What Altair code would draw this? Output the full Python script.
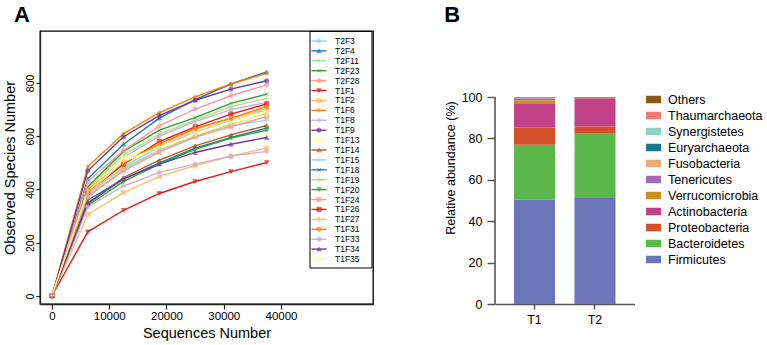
import altair as alt
import pandas as pd

FONT = "Liberation Sans"

# ---------- Panel A: rarefaction curves ----------
series_names = ["T2F3", "T2F4", "T2F11", "T2F23", "T2F28", "T1F1", "T1F2", "T1F6",
                "T1F8", "T1F9", "T1F13", "T1F14", "T1F15", "T1F18", "T1F19", "T1F20",
                "T1F24", "T1F26", "T1F27", "T1F31", "T1F33", "T1F34", "T1F35"]

paired = ["#a6cee3", "#1f78b4", "#b2df8a", "#33a02c", "#fb9a99", "#e31a1c",
          "#fdbf6f", "#ff7f00", "#cab2d6", "#6a3d9a", "#ffff99", "#b15928"]
series_colors = (paired * 2)[:len(series_names)]

PLUS = "M-1,0H1M0,-1V1"
XMARK = "M-0.8,-0.8L0.8,0.8M0.8,-0.8L-0.8,0.8"
STAR = "M-1,0H1M0,-1V1M-0.7,-0.7L0.7,0.7M0.7,-0.7L-0.7,0.7"
series_shapes = ["circle", "triangle-up", PLUS, XMARK, "circle", "triangle-down",
                 "square", STAR, "diamond", "circle", "circle", "triangle-up",
                 PLUS, XMARK, "diamond", "triangle-down", "square", "square",
                 "diamond", "circle", "circle", "triangle-up", PLUS]

depths = [0, 6250, 12500, 18750, 25000, 31250, 37500]

observed = [
    [1, 380, 485, 560, 615, 660, 698],   # T2F3
    [1, 440, 570, 668, 737, 796, 841],   # T2F4
    [1, 405, 530, 608, 660, 711, 742],   # T2F11
    [1, 410, 543, 623, 670, 723, 758],   # T2F23
    [1, 430, 546, 639, 702, 752, 793],   # T2F28
    [1, 241, 322, 385, 430, 467, 501],   # T1F1
    [1, 305, 388, 449, 489, 525, 555],   # T1F2
    [1, 486, 610, 689, 748, 796, 836],   # T1F6
    [1, 395, 520, 600, 655, 700, 727],   # T1F8
    [1, 470, 598, 677, 735, 777, 808],   # T1F9
    [1, 400, 520, 570, 620, 662, 692],   # T1F13
    [1, 345, 445, 510, 564, 605, 640],   # T1F14
    [1, 370, 475, 545, 595, 640, 660],   # T1F15
    [1, 360, 440, 500, 555, 595, 630],   # T1F18
    [1, 385, 480, 548, 600, 645, 685],   # T1F19
    [1, 340, 430, 495, 551, 593, 622],   # T1F20
    [1, 375, 470, 540, 598, 635, 674],   # T1F24
    [1, 390, 495, 580, 635, 683, 721],   # T1F26
    [1, 385, 505, 565, 625, 665, 705],   # T1F27
    [1, 400, 500, 572, 629, 668, 711],   # T1F31
    [1, 335, 413, 464, 495, 525, 543],   # T1F33
    [1, 350, 440, 495, 539, 570, 595],   # T1F34
    [1, 395, 505, 560, 605, 650, 680],   # T1F35
]

x_ticks_a = [0, 10000, 20000, 30000, 40000]
y_ticks_a = [0, 200, 400, 600, 800]

# ---------- Panel B: relative abundance ----------
groups = ["T1", "T2"]
phyla = ["Firmicutes", "Bacteroidetes", "Proteobacteria", "Actinobacteria",
         "Verrucomicrobia", "Tenericutes", "Fusobacteria", "Euryarchaeota",
         "Synergistetes", "Thaumarchaeota", "Others"]
phyla_colors = ["#6b74b9", "#5ab94a", "#d4502a", "#c2428a", "#c98f1c", "#a46bb5",
                "#eaa978", "#147a8c", "#92d0c6", "#ef7b70", "#8a5a1c"]
t1_abundance = [50.4, 26.5, 8.4, 11.3, 1.8, 1.0, 0.2, 0.1, 0.1, 0.0, 0.2]
t2_abundance = [51.2, 31.1, 3.4, 13.7, 0.1, 0.0, 0.0, 0.4, 0.1, 0.0, 0.0]
y_ticks_b = [0, 20, 40, 60, 80, 100]

# ---------- tables ----------
curve_rows = []
for name, vals in zip(series_names, observed):
    for d, v in zip(depths, vals):
        curve_rows.append({"series": name, "depth": d, "observed": v})
curve_df = pd.DataFrame(curve_rows)
key_df = pd.DataFrame({"series": series_names})

bar_rows = []
for g, vals in zip(groups, [t1_abundance, t2_abundance]):
    for rank, (p, v) in enumerate(zip(phyla, vals)):
        bar_rows.append({"group": g, "phylum": p, "value": v, "rank": rank})
bar_df = pd.DataFrame(bar_rows)

color_scale = alt.Scale(domain=series_names, range=series_colors)
shape_scale = alt.Scale(domain=series_names, range=series_shapes)

x_a = alt.X("depth:Q",
            scale=alt.Scale(domain=[-2096, 56070], nice=False, zero=False),
            axis=alt.Axis(values=x_ticks_a, format="d", title="Sequences Number",
                          labelFontSize=11.5, titleFontSize=14.5, titleFontWeight="normal",
                          tickSize=5, labelPadding=1, titlePadding=5, grid=False,
                          domainColor="#222", tickColor="#222", domainWidth=1.3,
                          tickWidth=1.2, labelColor="black", titleColor="black"))
y_a = alt.Y("observed:Q",
            scale=alt.Scale(domain=[-30, 995], nice=False, zero=False),
            axis=alt.Axis(values=y_ticks_a, title="Observed Species Number",
                          labelAngle=270, labelAlign="center", labelBaseline="bottom",
                          labelFontSize=10.5, titleFontSize=14.5, titleFontWeight="normal",
                          tickSize=4, labelPadding=1, titlePadding=8, grid=False,
                          domainColor="#222", tickColor="#222", domainWidth=1.3,
                          tickWidth=1.2, labelColor="black", titleColor="black"))

color_enc = alt.Color("series:N", scale=color_scale, legend=None)
stroke_enc = alt.Stroke("series:N", scale=color_scale, legend=None)
shape_enc = alt.Shape("series:N", scale=shape_scale, legend=None)

lines = alt.Chart(curve_df).mark_line(strokeWidth=1.4).encode(
    x=x_a, y=y_a, color=color_enc, order="depth:Q")
points = alt.Chart(curve_df).mark_point(filled=True, size=18, strokeWidth=1).encode(
    x=x_a, y=y_a, color=color_enc, stroke=stroke_enc, shape=shape_enc)

# key box listing every sample
key_y = alt.Y("series:N", sort=series_names,
              scale=alt.Scale(type="point", domain=series_names, range=[10, 228], padding=0),
              axis=None)
key_frame = alt.Chart(pd.DataFrame({"k": [0]})).mark_rect(
    fill="white", stroke="black", strokeWidth=1).encode(
    x=alt.value(270), x2=alt.value(332), y=alt.value(0.5), y2=alt.value(237))
key_rule = alt.Chart(key_df).mark_rule(strokeWidth=1.4).encode(
    x=alt.value(271.5), x2=alt.value(286.5), y=key_y, color=color_enc)
key_pt = alt.Chart(key_df).mark_point(filled=True, size=18, strokeWidth=1).encode(
    x=alt.value(279), y=key_y, color=color_enc, stroke=stroke_enc, shape=shape_enc)
key_txt = alt.Chart(key_df).mark_text(
    align="left", baseline="middle", fontSize=8.5, font=FONT, color="black").encode(
    x=alt.value(295), y=key_y, text="series:N")

panel_title = dict(anchor="start", fontSize=22, fontWeight="bold", font=FONT,
                   offset=0, dy=13, baseline="alphabetic", color="black")

panel_a = alt.layer(
    alt.layer(lines, points),
    alt.layer(key_frame, key_rule, key_pt, key_txt),
).resolve_scale(y="independent").properties(
    width=333, height=273,
    view=alt.ViewBackground(stroke="black", strokeWidth=1.3),
    title=alt.TitleParams("A", dx=12, **panel_title),
)

legend_order = phyla[::-1]
legend_colors = phyla_colors[::-1]

# the value axis is drawn only over 0-100 while the plot area keeps the same
# height as panel A
y_b_scale = alt.Scale(domain=[0, 131.9], nice=False)

bars = alt.Chart(bar_df).mark_bar().encode(
    x=alt.X("group:N", sort=groups,
            scale=alt.Scale(paddingInner=0.322, paddingOuter=0.314),
            axis=alt.Axis(title=None, labelAngle=0, labelFontSize=12.5, tickSize=5,
                          labelPadding=4, domainColor="#555", tickColor="#555",
                          domainWidth=1.6, tickWidth=1.5, labelColor="black")),
    y=alt.Y("value:Q", stack="zero", scale=y_b_scale,
            axis=alt.Axis(values=y_ticks_b, title="Relative abundance (%)", domain=False,
                          labelFontSize=12.5, titleFontSize=12.5, titleFontWeight="normal",
                          tickSize=8, labelPadding=5, titlePadding=4, grid=False,
                          tickColor="#555", tickWidth=1.5, labelColor="black",
                          titleColor="black")),
    color=alt.Color("phylum:N",
                    scale=alt.Scale(domain=legend_order, range=legend_colors),
                    legend=alt.Legend(orient="none", legendX=151, legendY=61, title=None,
                                      symbolType="M-1,-0.5H1V0.5H-1Z", symbolSize=225,
                                      symbolStrokeWidth=0, labelFontSize=12.5,
                                      labelOffset=7, rowPadding=2, labelColor="black",
                                      labelFont=FONT)),
    order=alt.Order("rank:Q", sort="ascending"),
)

value_axis_line = alt.Chart(pd.DataFrame({"k": [0]})).mark_rule(
    color="#555", strokeWidth=1.6).encode(
    x=alt.value(0), y=alt.datum(0, scale=y_b_scale), y2=alt.datum(100))

panel_b = alt.layer(bars, value_axis_line).properties(
    width=139.5, height=273,
    title=alt.TitleParams("B", dx=0, **panel_title),
)

chart = alt.hconcat(panel_a, panel_b, spacing=70).resolve_scale(
    color="independent"
).properties(
    padding={"left": 1, "top": 3, "right": 0, "bottom": 0},
    background="white",
).configure(font=FONT).configure_view(strokeWidth=0)

chart.save("out.html", embed_options={"renderer": "svg", "actions": False})
